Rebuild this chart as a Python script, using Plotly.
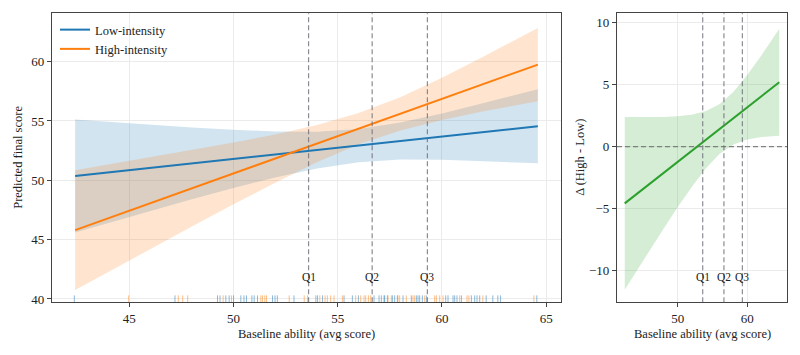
import plotly.graph_objects as go

# ---------------- data ----------------
x_grid = [42.4, 44, 46, 48, 50, 52, 54, 56, 58, 60, 62, 64.6]

low_fit   = [50.37, 50.67, 51.05, 51.42, 51.80, 52.18, 52.55, 52.93, 53.31, 53.68, 54.06, 54.55]
low_upper = [55.13, 54.92, 54.68, 54.44, 54.25, 54.12, 54.10, 54.33, 54.86, 55.62, 56.51, 57.67]
low_lower = [45.61, 46.42, 47.42, 48.40, 49.35, 50.24, 51.00, 51.53, 51.76, 51.74, 51.61, 51.43]

high_fit   = [45.80, 46.81, 48.06, 49.32, 50.58, 51.83, 53.09, 54.35, 55.60, 56.86, 58.12, 59.75]
high_upper = [50.85, 51.33, 51.92, 52.54, 53.18, 53.86, 54.65, 55.66, 57.00, 58.64, 60.43, 62.84]
high_lower = [40.75, 42.29, 44.20, 46.10, 47.98, 49.80, 51.53, 53.04, 54.20, 55.08, 55.81, 56.66]

diff_fit   = [-4.57, -3.86, -2.99, -2.10, -1.22, -0.35, 0.54, 1.42, 2.29, 3.18, 4.06, 5.20]
diff_upper = [2.40, 2.39, 2.37, 2.39, 2.45, 2.57, 2.86, 3.43, 4.41, 5.78, 7.34, 9.52]
diff_lower = [-11.54, -10.11, -8.35, -6.59, -4.89, -3.27, -1.78, -0.59, 0.17, 0.58, 0.78, 0.88]

rug_low = [42.36, 47.19, 49.23, 49.35, 49.63, 49.79, 50.0, 50.35, 50.5, 50.62, 50.88, 50.99,
           51.15, 51.87, 51.99, 52.1, 52.9, 53.95, 54.03, 54.27, 55.3, 55.7, 55.99, 56.74,
           56.98, 57.09, 57.22, 57.25, 57.38, 57.62, 57.73, 57.86, 58.13, 58.53, 58.77, 58.85,
           58.93, 59.06, 59.25, 60.18, 60.29, 60.53, 60.61, 60.72, 60.93, 61.41, 61.57, 61.68,
           61.81, 62.12, 62.44, 62.68, 62.81, 64.55]
rug_high = [44.97, 47.35, 47.56, 47.8, 49.5, 49.9, 51.31, 51.39, 51.5, 51.58, 52.67, 53.39,
            53.55, 54.14, 54.39, 54.5, 54.66, 54.82, 55.22, 55.86, 56.1, 56.26, 56.34, 56.47,
            56.58, 57.41, 57.57, 57.89, 57.97, 58.29, 58.61, 58.69, 59.17, 59.65, 59.73, 59.89,
            60.05, 60.85, 61.2, 61.29, 61.96, 64.41]
rug_y = 39.95

quartile_labels = ["Q1", "Q2", "Q3"]
quartile_values = [53.6, 56.65, 59.3]

# ---------------- styling ----------------
BLUE = "#1f77b4"
ORANGE = "#ff7f0e"
GREEN = "#2ca02c"
FONT = "Liberation Serif"
AX = "#444444"
GRID = "#ebebeb"

fig = go.Figure()

def band(x, lo, hi, fill, xa, ya):
    fig.add_trace(go.Scatter(x=x, y=lo, mode="lines", line=dict(width=0), hoverinfo="skip",
                             showlegend=False, xaxis=xa, yaxis=ya))
    fig.add_trace(go.Scatter(x=x, y=hi, mode="lines", line=dict(width=0), fill="tonexty",
                             fillcolor=fill, hoverinfo="skip", showlegend=False, xaxis=xa, yaxis=ya))

band(x_grid, low_lower, low_upper, "rgba(31,119,180,0.2)", "x", "y")
band(x_grid, high_lower, high_upper, "rgba(255,127,14,0.2)", "x", "y")
fig.add_trace(go.Scatter(x=x_grid, y=low_fit, mode="lines", name="Low-intensity",
                         line=dict(color=BLUE, width=2), xaxis="x", yaxis="y"))
fig.add_trace(go.Scatter(x=x_grid, y=high_fit, mode="lines", name="High-intensity",
                         line=dict(color=ORANGE, width=2), xaxis="x", yaxis="y"))

# rugs
fig.add_trace(go.Scatter(x=rug_low, y=[rug_y] * len(rug_low), mode="markers", showlegend=False,
                         marker=dict(symbol="line-ns", size=6, opacity=0.5,
                                     line=dict(color=BLUE, width=1)), xaxis="x", yaxis="y"))
fig.add_trace(go.Scatter(x=rug_high, y=[rug_y] * len(rug_high), mode="markers", showlegend=False,
                         marker=dict(symbol="line-ns", size=6, opacity=0.5,
                                     line=dict(color=ORANGE, width=1)), xaxis="x", yaxis="y"))

# right panel
band(x_grid, diff_lower, diff_upper, "rgba(44,160,44,0.2)", "x2", "y2")
fig.add_trace(go.Scatter(x=x_grid, y=diff_fit, mode="lines", showlegend=False,
                         line=dict(color=GREEN, width=2), xaxis="x2", yaxis="y2"))

shapes = []
annotations = []
for lab, q in zip(quartile_labels, quartile_values):
    for xr, yr in (("x", "y domain"), ("x2", "y2 domain")):
        shapes.append(dict(type="line", xref=xr, yref=yr, x0=q, x1=q, y0=0, y1=1,
                           line=dict(color="rgba(110,110,120,0.8)", width=1.2, dash="5px,3px")))
        annotations.append(dict(text=lab, xref=xr, yref=yr, x=q, y=0.088, showarrow=False,
                                xanchor="center", yanchor="middle",
                                font=dict(family=FONT, size=11.5, color="#222")))
shapes.append(dict(type="line", xref="x2 domain", yref="y2", x0=0, x1=1, y0=0, y1=0,
                   line=dict(color="rgba(110,110,110,0.85)", width=1.2, dash="5px,3px")))

title_font = dict(family=FONT, size=12.5, color="#222")
annotations += [
    dict(text="Baseline ability (avg score)", xref="paper", yref="paper", x=306.5 / 800,
         y=1 - 334 / 355, showarrow=False, xanchor="center", yanchor="middle", font=title_font),
    dict(text="Baseline ability (avg score)", xref="paper", yref="paper", x=702 / 800,
         y=1 - 334 / 355, showarrow=False, xanchor="center", yanchor="middle", font=title_font),
    dict(text="Predicted final score", xref="paper", yref="paper", x=18 / 800,
         y=1 - 157.8 / 355, showarrow=False, textangle=-90, xanchor="center", yanchor="middle",
         font=title_font),
    dict(text="Δ (High - Low)", xref="paper", yref="paper", x=580 / 800,
         y=1 - 157.8 / 355, showarrow=False, textangle=-90, xanchor="center", yanchor="middle",
         font=title_font),
]

axis_common = dict(showline=True, mirror=True, linecolor=AX, linewidth=1.3,
                   ticks="outside", ticklen=4, tickwidth=1, tickcolor=AX,
                   showgrid=True, gridcolor=GRID, gridwidth=0.8, zeroline=False,
                   tickfont=dict(family=FONT, size=13, color="#222"), automargin=False)

ydom = [1 - 302.3 / 355, 1 - 13.3 / 355]
fig.update_layout(
    width=800, height=355,
    margin=dict(l=0, r=0, t=0, b=0),
    paper_bgcolor="white", plot_bgcolor="white",
    font=dict(family=FONT, size=12, color="#222"),
    xaxis=dict(domain=[52 / 800, 561 / 800], range=[41.29, 65.71], tickvals=[45, 50, 55, 60, 65],
               anchor="y", **axis_common),
    yaxis=dict(domain=ydom, range=[39.72, 64.07], tickvals=[40, 45, 50, 55, 60],
               anchor="x", **axis_common),
    xaxis2=dict(domain=[617 / 800, 787 / 800], range=[41.29, 65.71], tickvals=[50, 60],
                anchor="y2", **axis_common),
    yaxis2=dict(domain=ydom, range=[-12.55, 10.76], tickvals=[-10, -5, 0, 5, 10],
                anchor="x2", **axis_common),
    shapes=shapes,
    annotations=annotations,
    showlegend=True,
    legend=dict(x=55 / 800, y=1 - 15 / 355, xanchor="left", yanchor="top",
                traceorder="normal", bgcolor="rgba(0,0,0,0)",
                font=dict(family=FONT, size=12.5, color="#222"), tracegroupgap=0),
)

fig.write_html("out.html")
